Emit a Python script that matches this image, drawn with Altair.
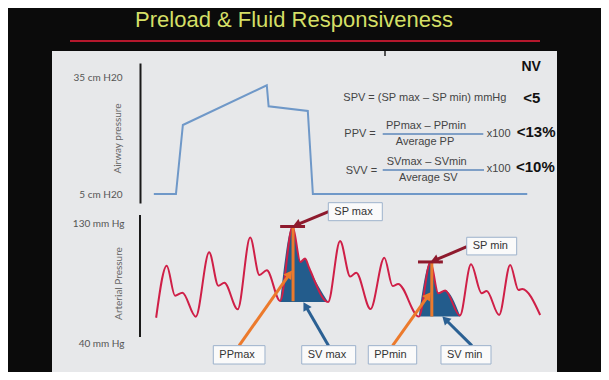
import math
import altair as alt
import pandas as pd

# ---------------- data ----------------
# Airway pressure trace: time (s) / cm H2O
air_t = [0.30, 0.78, 0.93, 2.75, 2.79, 3.64, 3.75, 8.40]
air_p = [5, 5, 22.7, 32.9, 27.5, 26.3, 5, 5]

# Arterial pressure trace: time (s) / mmHg
art_t = [0.35, 0.58, 0.76, 0.92, 1.21, 1.50, 1.70, 1.83, 2.12, 2.39,
         2.59, 2.75, 3.04, 3.31, 3.48, 3.58, 3.67, 4.08, 4.34, 4.56,
         4.69, 5.00, 5.30, 5.48, 5.60, 6.05, 6.30, 6.47, 6.62, 6.94,
         7.18, 7.41, 7.52, 7.79, 8.03, 8.21, 8.29, 8.68]
art_p = [59.1, 98.5, 75.8, 78.0, 59.9, 108.6, 83.3, 85.6, 65.5, 119.7,
         91.4, 95.0, 71.8, 128.1, 101.3, 103.9, 96.7, 71.0, 117.2, 90.2,
         93.2, 65.7, 104.5, 83.1, 84.6, 60.0, 101.3, 77.6, 79.7, 60.8,
         99.5, 77.6, 79.3, 61.2, 99.0, 80.1, 80.8, 61.2]

# Highlighted beats (stroke volume areas)
beat_start = [3.04, 6.05]
beat_end = [4.08, 6.94]
beat_base = [71.0, 60.0]

# Systolic peak markers
sp_t0 = [3.04, 6.03]
sp_t1 = [3.58, 6.57]
sp_p = [128.1, 101.3]

# Pulse pressure verticals
pp_t = [3.32, 6.33]
pp_lo = [71.6, 60.0]
pp_hi = [128.1, 101.3]

# Arrows
arrow_kind = ["sp", "sp", "pp", "pp", "sv", "sv"]
arrow_tail_t = [4.09, 7.09, 2.15, 5.48, 4.09, 7.20]
arrow_tail_p = [139.3, 112.8, 38.0, 38.0, 38.0, 38.0]
arrow_head_t = [3.34, 6.33, 3.28, 6.29, 3.56, 6.58]
arrow_head_p = [128.5, 101.6, 93.9, 77.6, 69.9, 59.4]

# Annotation boxes
box_label = ["SP max", "SP min", "PPmax", "SV max", "PPmin", "SV min"]
box_t0 = [4.085, 7.087, 1.590, 3.508, 4.952, 6.529]
box_t1 = [5.256, 8.171, 2.711, 4.679, 6.002, 7.614]
box_p0 = [132.5, 106.6, 24.1, 24.1, 24.1, 24.1]
box_p1 = [146.1, 119.95, 38.0, 38.0, 38.0, 38.0]

# ---------------- styling ----------------
SANS = "Liberation Sans, Arial, sans-serif"
NARROW = "Liberation Sans Narrow, Liberation Sans, Arial, sans-serif"
LABEL_FONT = "Lato, Liberation Sans, sans-serif"
RED_WAVE = "#cf1f47"
FILL = "#235c8c"
ORANGE = "#ec7a2c"
DARKRED = "#8e1a2d"
BLUE = "#2b6093"
AIR = "#6f98c8"

W, H = 461, 364
X_DOM = [0, 10]
PX_T = W / (X_DOM[1] - X_DOM[0])
ART_DOM = [40, 136.8]
ART_RANGE = [335, 207]
PX_P = (ART_RANGE[0] - ART_RANGE[1]) / (ART_DOM[1] - ART_DOM[0])

xs = alt.Scale(domain=X_DOM, nice=False, zero=False)
air_scale = alt.Scale(domain=[2.7, 38.6], range=[195, 55], nice=False, zero=False)
art_scale = alt.Scale(domain=ART_DOM, range=ART_RANGE, nice=False, zero=False)

one = pd.DataFrame([{"k": 0}])


def deco_text(s, x, y, size=11, color="#444", align="left", weight="normal",
              font=NARROW):
    return alt.Chart(one).mark_text(
        text=s, align=align, baseline="middle", fontSize=size, color=color,
        fontWeight=weight, font=font
    ).encode(x=alt.value(x), y=alt.value(y))


def deco_rule(x1, y1, x2, y2, color, width):
    return alt.Chart(one).mark_rule(color=color, strokeWidth=width).encode(
        x=alt.value(x1), y=alt.value(y1), x2=alt.value(x2), y2=alt.value(y2))


# ---------------- decoration ----------------
panel = alt.Chart(one).mark_rect(color="#e7e8ea").encode(
    x=alt.value(-88), x2=alt.value(417), y=alt.value(43), y2=alt.value(365))
title = deco_text("Preload & Fluid Responsiveness", 154, 11.5, size=22,
                  color="#d4df66", align="center", font=SANS)
title_rule = deco_rule(-70, 33, 400, 33, "#b4172c", 2)
top_tick = deco_rule(245, 43, 245, 48, "#222", 1.5)

formulas = [
    deco_text("NV", 381.5, 58.7, size=14, color="#111", weight="bold", font=SANS),
    deco_text("SPV = (SP max \u2013 SP min) mmHg", 203.3, 90.3),
    deco_text("<5", 383.3, 90.3, size=15, color="#111", weight="bold", font=SANS),
    deco_text("PPV =", 204.3, 126),
    deco_text("PPmax \u2013 PPmin", 286, 118, align="center"),
    deco_rule(242.7, 126, 343.3, 126, "#7f9fc6", 2),
    deco_text("Average PP", 285, 134, align="center"),
    deco_text("x100", 346.7, 126),
    deco_text("<13%", 376.7, 124, size=15, color="#111", weight="bold", font=SANS),
    deco_text("SVV =", 205.7, 162.7),
    deco_text("SVmax \u2013 SVmin", 286.7, 154.3, align="center"),
    deco_rule(242.7, 162, 344, 162, "#7f9fc6", 2),
    deco_text("Average SV", 288.3, 170.3, align="center"),
    deco_text("x100", 346.7, 161.3),
    deco_text("<10%", 376, 159.3, size=15, color="#111", weight="bold", font=SANS),
]

# ---------------- airway pressure ----------------
air_df = pd.DataFrame({"t": air_t, "p": air_p})
airway = alt.Chart(air_df).mark_line(color=AIR, strokeWidth=2).encode(
    x=alt.X("t:Q", scale=xs, axis=None),
    y=alt.Y("p:Q", scale=air_scale, axis=alt.Axis(
        orient="left", values=[5, 35], labelExpr="datum.value + ' cm H20'",
        title="Airway pressure", grid=False, ticks=False, tickSize=0,
        labelPadding=18, domain=True, domainColor="#1a1a1a", domainWidth=2,
        labelFont=LABEL_FONT, labelFontSize=10, labelColor="#555",
        titleFont=LABEL_FONT, titleFontSize=10, titleFontWeight="normal",
        titleColor="#666", titleX=-23, titleY=130, titleAngle=270,
        titleAlign="center", titleBaseline="middle", zindex=2)),
)

# ---------------- arterial pressure ----------------
art_df = pd.DataFrame({"t": art_t, "p": art_p})

art_axis_df = pd.DataFrame({"lo": [44.5], "hi": [136.8]})
art_axis_line = alt.Chart(art_axis_df).mark_rule(color="#1a1a1a", strokeWidth=2).encode(
    x=alt.value(0),
    y=alt.Y("lo:Q", scale=art_scale, axis=None),
    y2="hi:Q",
)

areas = []
for a, b, base in zip(beat_start, beat_end, beat_base):
    areas.append(
        alt.Chart(art_df).transform_filter(
            (alt.datum.t >= a - 1e-9) & (alt.datum.t <= b + 1e-9)
        ).transform_calculate(base=str(base)).mark_area(
            color=FILL, interpolate="monotone", opacity=1
        ).encode(
            x=alt.X("t:Q", scale=xs, axis=None),
            y=alt.Y("p:Q", scale=art_scale, axis=None),
            y2="base:Q",
        )
    )

wave = alt.Chart(art_df).mark_line(color=RED_WAVE, strokeWidth=2,
                                   interpolate="monotone").encode(
    x=alt.X("t:Q", scale=xs, axis=None),
    y=alt.Y("p:Q", scale=art_scale, axis=alt.Axis(
        orient="left", values=[40, 130], labelExpr="datum.value + ' mm Hg'",
        title="Arterial Pressure", grid=False, ticks=False, tickSize=0,
        labelPadding=16, domain=False,
        labelFont=LABEL_FONT, labelFontSize=10, labelColor="#555",
        titleFont=LABEL_FONT, titleFontSize=10, titleFontWeight="normal",
        titleColor="#666", titleX=-22, titleY=275, titleAngle=270,
        titleAlign="center", titleBaseline="middle", zindex=2)),
)

pp_df = pd.DataFrame({"t": pp_t, "lo": pp_lo, "hi": pp_hi})
pp_lines = alt.Chart(pp_df).mark_rule(color=ORANGE, strokeWidth=3).encode(
    x=alt.X("t:Q", scale=xs, axis=None),
    y=alt.Y("lo:Q", scale=art_scale, axis=None),
    y2="hi:Q",
)

sp_df = pd.DataFrame({"t0": sp_t0, "t1": sp_t1, "p": sp_p})
sp_bars = alt.Chart(sp_df).mark_rule(color=DARKRED, strokeWidth=3).encode(
    x=alt.X("t0:Q", scale=xs, axis=None),
    x2="t1:Q",
    y=alt.Y("p:Q", scale=art_scale, axis=None),
)

# arrows: shaft ends at arrow-head centre, head rotated along the shaft
HEAD_SIZE = 90
head_h = math.sqrt(3) / 2 * math.sqrt(HEAD_SIZE) / 2
rows = []
for k, tt, pt, th, ph in zip(arrow_kind, arrow_tail_t, arrow_tail_p,
                             arrow_head_t, arrow_head_p):
    dx = (th - tt) * PX_T
    dy = -(ph - pt) * PX_P
    L = math.hypot(dx, dy)
    ux, uy = dx / L, dy / L
    ang = math.degrees(math.atan2(dx, -dy)) % 360
    ct = th - head_h * ux / PX_T
    cp = ph + head_h * uy / PX_P
    rows.append({"kind": k, "tt": tt, "pt": pt, "ct": ct, "cp": cp, "ang": ang})
arrow_df = pd.DataFrame(rows)
arrow_color = alt.Color("kind:N", scale=alt.Scale(domain=["sp", "pp", "sv"],
                                                  range=[DARKRED, ORANGE, BLUE]),
                        legend=None)
shafts = alt.Chart(arrow_df).mark_rule(strokeWidth=3).encode(
    x=alt.X("tt:Q", scale=xs, axis=None), x2="ct:Q",
    y=alt.Y("pt:Q", scale=art_scale, axis=None), y2="cp:Q",
    color=arrow_color,
)
heads = alt.Chart(arrow_df).mark_point(shape="triangle", filled=True,
                                       size=HEAD_SIZE, opacity=1).encode(
    x=alt.X("ct:Q", scale=xs, axis=None),
    y=alt.Y("cp:Q", scale=art_scale, axis=None),
    angle=alt.Angle("ang:Q", scale=None),
    color=arrow_color,
)

box_df = pd.DataFrame({"label": box_label, "t0": box_t0, "t1": box_t1,
                       "p0": box_p0, "p1": box_p1})
boxes = alt.Chart(box_df).mark_rect(fill="#fafafa", stroke="#9db2cc",
                                    strokeWidth=1).encode(
    x=alt.X("t0:Q", scale=xs, axis=None), x2="t1:Q",
    y=alt.Y("p0:Q", scale=art_scale, axis=None), y2="p1:Q",
)
box_text = alt.Chart(box_df).transform_calculate(
    tx=f"datum.t0 + 6 / {PX_T}", py="(datum.p0 + datum.p1) / 2"
).mark_text(align="left", baseline="middle", fontSize=11, color="#333",
            font=NARROW).encode(
    x=alt.X("tx:Q", scale=xs, axis=None),
    y=alt.Y("py:Q", scale=art_scale, axis=None),
    text="label:N",
)

chart = alt.layer(
    panel, title, title_rule, top_tick, *formulas,
    airway, art_axis_line, *areas, wave, pp_lines, sp_bars,
    shafts, heads, boxes, box_text,
).resolve_scale(y="independent").properties(
    width=W, height=H,
    padding={"left": 132, "top": 0, "right": 0, "bottom": 0},
    autosize="none", background="#0b0b0b",
).configure_view(strokeWidth=0)

chart.save("out.html", embed_options={"renderer": "svg", "actions": False})
